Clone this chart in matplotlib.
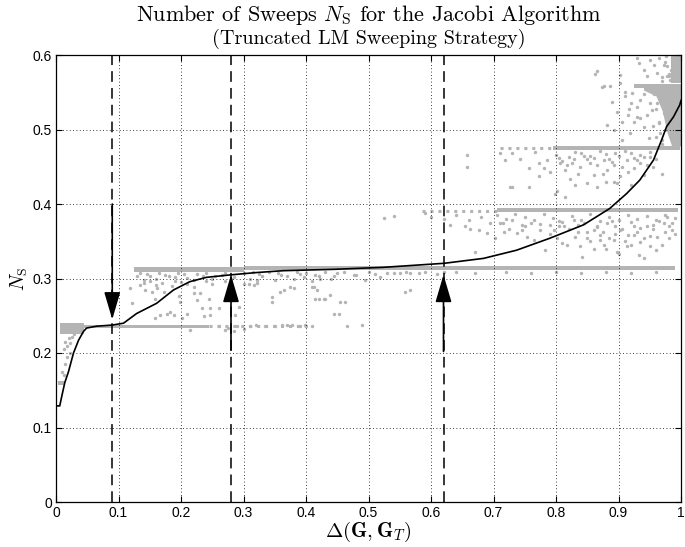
import matplotlib
matplotlib.use("Agg")
import matplotlib.pyplot as plt

plt.rcParams['mathtext.fontset'] = 'cm'
plt.rcParams['font.family'] = ['Liberation Sans', 'DejaVu Sans']

# ---------------- data ----------------
# mean curve
curve_x = [0.0, 0.006, 0.009, 0.014, 0.02, 0.028, 0.036, 0.044, 0.049, 0.065, 0.09, 0.108,
           0.129, 0.161, 0.188, 0.214, 0.241, 0.281, 0.321, 0.364, 0.444, 0.524, 0.621,
           0.684, 0.737, 0.79, 0.844, 0.886, 0.913, 0.934, 0.956, 0.969, 0.977, 0.988,
           0.998, 1.0]
curve_y = [0.129, 0.129, 0.141, 0.16, 0.175, 0.2, 0.217, 0.229, 0.2335, 0.236, 0.2375, 0.24,
           0.253, 0.2667, 0.2846, 0.2957, 0.3016, 0.305, 0.308, 0.3105, 0.3123, 0.315, 0.3204,
           0.327, 0.338, 0.354, 0.372, 0.394, 0.414, 0.432, 0.459, 0.486, 0.504, 0.517,
           0.533, 0.539]

# dense horizontal bands of samples: (x_start, x_end, y_low, y_high)
band_x0 = [0.003, 0.006, 0.045, 0.125, 0.30, 0.705, 0.795, 0.924]
band_x1 = [0.014, 0.045, 0.245, 0.30, 0.99, 0.995, 0.998, 1.0]
band_y0 = [0.157, 0.226, 0.2335, 0.3090, 0.3120, 0.3890, 0.4725, 0.5555]
band_y1 = [0.163, 0.240, 0.2380, 0.3160, 0.3165, 0.3940, 0.4780, 0.5605]

# sparse bands (x_start, x_end, y)
sparse_x0 = [0.245, 0.585, 0.71]
sparse_x1 = [0.41, 0.705, 0.795]
sparse_y = [0.2365, 0.391, 0.475]

# dense block below the top band at the right edge
block_x = [0.94, 0.96, 0.97, 0.978, 0.985, 1.0]
block_lo = [0.553, 0.545, 0.525, 0.495, 0.478, 0.478]
block_hi = [0.558, 0.558, 0.558, 0.558, 0.558, 0.558]
top_block_x = [0.984, 1.0]
top_block_lo = [0.562, 0.562]
top_block_hi = [0.6, 0.6]

# scattered samples
pts_x = [
    0.012, 0.015, 0.018, 0.02, 0.023, 0.017, 0.014, 0.022, 0.025, 0.028, 0.01, 0.013, 0.03,
    0.121, 0.118, 0.134, 0.142, 0.153, 0.161, 0.172, 0.158, 0.196, 0.198, 0.22, 0.23, 0.244,
    0.225, 0.233, 0.246, 0.26, 0.182, 0.188, 0.177, 0.158, 0.166, 0.209, 0.201, 0.236, 0.246,
    0.292, 0.286, 0.30, 0.308, 0.316, 0.31, 0.321, 0.358, 0.374, 0.345, 0.412, 0.428, 0.414,
    0.454, 0.444, 0.558, 0.396, 0.422, 0.476, 0.518, 0.54, 0.566,
    0.13, 0.145, 0.16, 0.175, 0.19, 0.205, 0.22, 0.235, 0.25, 0.265, 0.15, 0.2, 0.185, 0.14,
    0.17, 0.21, 0.24, 0.27, 0.33, 0.36, 0.39, 0.42, 0.45, 0.48, 0.51, 0.55, 0.58, 0.61,
    0.64, 0.67, 0.72, 0.76, 0.8, 0.84, 0.88, 0.92, 0.96,
    0.26, 0.275, 0.29, 0.31, 0.32, 0.335, 0.35, 0.37, 0.39, 0.41, 0.465, 0.27, 0.285, 0.215,
    0.30, 0.362, 0.378, 0.398, 0.49,
    0.321, 0.345, 0.365, 0.381, 0.41, 0.418, 0.42, 0.431, 0.439, 0.453, 0.462, 0.566, 0.495,
    0.524, 0.54, 0.657, 0.657,
    0.670, 0.662, 0.676, 0.689, 0.694, 0.71, 0.716, 0.724, 0.737, 0.75, 0.753, 0.764, 0.774,
    0.782, 0.796, 0.801, 0.812, 0.817, 0.828, 0.838, 0.841, 0.849, 0.86, 0.87, 0.876, 0.881,
    0.892, 0.897, 0.902, 0.913, 0.924, 0.932, 0.934, 0.945, 0.95, 0.961, 0.972, 0.977, 0.985,
    0.705, 0.72, 0.735, 0.75, 0.765, 0.78, 0.795, 0.81, 0.825, 0.84, 0.855, 0.87, 0.885, 0.9,
    0.915, 0.93, 0.945, 0.96, 0.975, 0.99, 0.715, 0.745, 0.775, 0.805, 0.835, 0.865, 0.895,
    0.925, 0.955, 0.985,
    0.6, 0.62, 0.64, 0.66, 0.68, 0.63, 0.655, 0.59, 0.702,
    0.726, 0.798, 0.814, 0.83, 0.865, 0.897, 0.756, 0.801,
    0.71, 0.718, 0.729, 0.742, 0.756, 0.729, 0.766, 0.772, 0.78, 0.785, 0.79, 0.822, 0.806,
    0.828, 0.838, 0.854, 0.86, 0.876, 0.881, 0.892, 0.902, 0.913, 0.924, 0.934, 0.94, 0.95,
    0.849, 0.892, 0.817, 0.772,
    0.8, 0.82, 0.84, 0.86, 0.88, 0.9, 0.92, 0.94, 0.81, 0.85, 0.89, 0.93, 0.83, 0.87, 0.91,
    0.95,
    0.889, 0.897, 0.905, 0.892, 0.916, 0.918, 0.929, 0.934, 0.94, 0.948, 0.953, 0.905, 0.881,
    0.91, 0.921, 0.956, 0.964, 0.966, 0.961, 0.972, 0.969, 0.902, 0.886, 0.876,
    0.862, 0.929, 0.932, 0.95, 0.956, 0.964, 0.961, 0.972, 0.977, 0.969, 0.945, 0.902, 0.94,
    0.865, 0.873,
    # extra cloud below the 0.39 band
    0.73, 0.745, 0.76, 0.79, 0.805, 0.82, 0.835, 0.845, 0.855, 0.865, 0.875, 0.885, 0.89,
    0.905, 0.91, 0.92, 0.93, 0.94, 0.955, 0.965, 0.97, 0.98, 0.99, 0.86, 0.88, 0.9, 0.92,
    0.94, 0.96, 0.98, 0.85, 0.87, 0.895, 0.915, 0.935, 0.95, 0.975, 0.83, 0.81, 0.79,
    # extra cloud below the 0.47 band
    0.805, 0.825, 0.845, 0.865, 0.885, 0.905, 0.925, 0.945, 0.96, 0.815, 0.835, 0.855, 0.875,
    0.895, 0.915, 0.935, 0.955, 0.97, 0.88, 0.92,
    # extra cloud below the 0.56 band
    0.91, 0.92, 0.93, 0.94, 0.95, 0.96, 0.97, 0.915, 0.925, 0.935, 0.945, 0.955, 0.965,
    0.975, 0.96, 0.97, 0.98, 0.985, 0.978,
    # extra points just under the 0.31 band
    0.135, 0.15, 0.165, 0.18, 0.195, 0.21, 0.225, 0.24, 0.255, 0.27, 0.285, 0.3, 0.14, 0.16,
    0.19, 0.22, 0.25, 0.28,
    0.315, 0.325, 0.34, 0.355, 0.37, 0.385, 0.4, 0.415, 0.43, 0.445, 0.46, 0.5, 0.53, 0.56,
    0.59, 0.62, 0.35, 0.38, 0.41, 0.44,
    # extra top points
    0.975, 0.98, 0.985, 0.982, 0.978, 0.984, 0.97, 0.976, 0.98,
]
pts_y = [
    0.205, 0.215, 0.21, 0.22, 0.213, 0.195, 0.185, 0.2, 0.222, 0.225, 0.175, 0.17, 0.228,
    0.267, 0.287, 0.291, 0.285, 0.282, 0.287, 0.282, 0.273, 0.276, 0.269, 0.28, 0.28, 0.273,
    0.271, 0.26, 0.26, 0.26, 0.255, 0.251, 0.253, 0.247, 0.251, 0.253, 0.247, 0.249, 0.251,
    0.262, 0.251, 0.293, 0.293, 0.291, 0.30, 0.298, 0.282, 0.289, 0.269, 0.289, 0.273, 0.273,
    0.269, 0.253, 0.282, 0.302, 0.30, 0.305, 0.302, 0.307, 0.307,
    0.303, 0.306, 0.30, 0.305, 0.302, 0.306, 0.298, 0.304, 0.30, 0.305, 0.297, 0.295, 0.29,
    0.298, 0.294, 0.292, 0.296, 0.296, 0.303, 0.305, 0.306, 0.304, 0.307, 0.305, 0.306,
    0.307, 0.308, 0.306, 0.309, 0.308, 0.309, 0.308, 0.309, 0.308, 0.309, 0.308, 0.309,
    0.236, 0.234, 0.236, 0.236, 0.237, 0.236, 0.236, 0.237, 0.236, 0.236, 0.236, 0.231,
    0.229, 0.231, 0.232, 0.237, 0.237, 0.237, 0.237,
    0.2935, 0.2756, 0.2845, 0.287, 0.289, 0.2845, 0.273, 0.273, 0.278, 0.2525, 0.269, 0.2845,
    0.298, 0.381, 0.384, 0.466, 0.45,
    0.336, 0.367, 0.365, 0.361, 0.374, 0.374, 0.363, 0.367, 0.361, 0.37, 0.356, 0.352, 0.365,
    0.338, 0.365, 0.354, 0.37, 0.345, 0.379, 0.343, 0.329, 0.354, 0.365, 0.358, 0.345, 0.374,
    0.352, 0.336, 0.365, 0.343, 0.358, 0.331, 0.349, 0.37, 0.343, 0.356, 0.374, 0.383, 0.365,
    0.385, 0.38, 0.387, 0.382, 0.378, 0.386, 0.381, 0.376, 0.384, 0.379, 0.386, 0.377, 0.383,
    0.378, 0.385, 0.38, 0.384, 0.379, 0.385, 0.381, 0.375, 0.372, 0.373, 0.37, 0.372, 0.369,
    0.371, 0.37, 0.372, 0.375,
    0.383, 0.38, 0.385, 0.378, 0.382, 0.372, 0.37, 0.388, 0.354,
    0.423, 0.414, 0.41, 0.425, 0.423, 0.428, 0.423, 0.417,
    0.468, 0.459, 0.468, 0.461, 0.448, 0.423, 0.47, 0.455, 0.448, 0.459, 0.443, 0.434, 0.455,
    0.461, 0.45, 0.455, 0.439, 0.459, 0.446, 0.452, 0.437, 0.459, 0.448, 0.455, 0.439, 0.463,
    0.428, 0.43, 0.452, 0.437,
    0.466, 0.463, 0.468, 0.462, 0.467, 0.464, 0.468, 0.463, 0.458, 0.46, 0.457, 0.459, 0.47,
    0.471, 0.471, 0.47,
    0.537, 0.524, 0.51, 0.499, 0.528, 0.495, 0.517, 0.54, 0.504, 0.488, 0.526, 0.486, 0.506,
    0.551, 0.549, 0.547, 0.509, 0.495, 0.535, 0.522, 0.486, 0.562, 0.558, 0.558,
    0.575, 0.596, 0.589, 0.593, 0.587, 0.596, 0.576, 0.586, 0.572, 0.57, 0.572, 0.573, 0.58,
    0.578, 0.557,
    0.378, 0.365, 0.374, 0.36, 0.377, 0.366, 0.362, 0.375, 0.35, 0.37, 0.362, 0.355, 0.377,
    0.366, 0.35, 0.376, 0.362, 0.355, 0.367, 0.377, 0.345, 0.37, 0.36, 0.34, 0.34, 0.333,
    0.345, 0.328, 0.338, 0.355, 0.362, 0.352, 0.36, 0.358, 0.368, 0.357, 0.362, 0.356, 0.348,
    0.372,
    0.462, 0.455, 0.465, 0.452, 0.46, 0.45, 0.462, 0.452, 0.46, 0.445, 0.44, 0.465, 0.44,
    0.468, 0.443, 0.466, 0.45, 0.44, 0.43, 0.425,
    0.545, 0.535, 0.53, 0.548, 0.535, 0.528, 0.54, 0.52, 0.51, 0.515, 0.52, 0.505, 0.51,
    0.5, 0.49, 0.48, 0.53, 0.51, 0.545,
    0.308, 0.304, 0.307, 0.303, 0.308, 0.301, 0.306, 0.308, 0.303, 0.308, 0.302, 0.308, 0.294,
    0.291, 0.296, 0.289, 0.293, 0.30,
    0.309, 0.306, 0.309, 0.308, 0.303, 0.309, 0.308, 0.305, 0.309, 0.304, 0.309, 0.309,
    0.308, 0.309, 0.309, 0.309, 0.298, 0.30, 0.297, 0.30,
    0.59, 0.575, 0.595, 0.567, 0.585, 0.58, 0.565, 0.598, 0.572,
]

# reference positions
vline_x = [0.09, 0.28, 0.62]
arrow_x = [0.09, 0.28, 0.62]
arrow_tail = [0.40, 0.204, 0.202]
arrow_tip = [0.245, 0.305, 0.305]

xticks = [0, 0.1, 0.2, 0.3, 0.4, 0.5, 0.6, 0.7, 0.8, 0.9, 1]
yticks = [0, 0.1, 0.2, 0.3, 0.4, 0.5, 0.6]
xticklabels = ['0', '0.1', '0.2', '0.3', '0.4', '0.5', '0.6', '0.7', '0.8', '0.9', '1']
yticklabels = ['0', '0.1', '0.2', '0.3', '0.4', '0.5', '0.6']

# ---------------- figure ----------------
gray = '#b4b4b4'
fig = plt.figure(figsize=(6.85, 5.47), dpi=100)
ax = fig.add_axes([56 / 685, 45 / 547, 625 / 685, 447 / 547])

for x0, x1, y0, y1 in zip(band_x0, band_x1, band_y0, band_y1):
    ax.fill_between([x0, x1], [y0, y0], [y1, y1], color=gray, lw=0, zorder=1)
for x0, x1, y in zip(sparse_x0, sparse_x1, sparse_y):
    ax.plot([x0, x1], [y, y], color=gray, lw=2.2, ls=(0, (1.0, 1.6)), zorder=1)
ax.fill_between(block_x, block_lo, block_hi, color=gray, lw=0, zorder=1)
ax.fill_between(top_block_x, top_block_lo, top_block_hi, color=gray, lw=0, zorder=1)
ax.scatter(pts_x, pts_y, s=6, color=gray, linewidths=0, zorder=1)

ax.plot(curve_x, curve_y, color='black', lw=1.2, zorder=3)

for vx in vline_x:
    ax.axvline(vx, color='black', lw=1.1, ls=(0, (7, 4)), zorder=2)
for a_x, t0, t1 in zip(arrow_x, arrow_tail, arrow_tip):
    ax.annotate('', xy=(a_x, t1), xytext=(a_x, t0),
                arrowprops=dict(arrowstyle='-|>,head_length=1.7,head_width=0.5',
                                lw=1.2, color='black', shrinkA=0, shrinkB=0), zorder=4)

ax.set_xlim(0, 1)
ax.set_ylim(0, 0.6)
ax.set_xticks(xticks)
ax.set_yticks(yticks)
ax.set_xticklabels(xticklabels)
ax.set_yticklabels(yticklabels)
ax.tick_params(direction='in', top=True, right=True, length=4, width=0.8, labelsize=10, pad=3)
ax.grid(True, color='black', ls=(0, (1, 3)), lw=0.6)
for sp in ax.spines.values():
    sp.set_linewidth(0.9)

ax.set_xlabel(r'$\Delta(\mathbf{G},\mathbf{G}_T)$', fontsize=15, labelpad=0)
ax.set_ylabel(r'$N_{\mathrm{S}}$', fontsize=14, labelpad=2)

fig.text((56 + 681) / 2 / 685, 1 - 15 / 547,
         r'Number of Sweeps $N_{\mathrm{S}}$ for the Jacobi Algorithm',
         ha='center', va='center', fontsize=16, family='cmr10')
fig.text((56 + 681) / 2 / 685, 1 - 39 / 547,
         '(Truncated LM Sweeping Strategy)',
         ha='center', va='center', fontsize=14.5, family='cmr10')

fig.savefig('out.png', dpi=100)
